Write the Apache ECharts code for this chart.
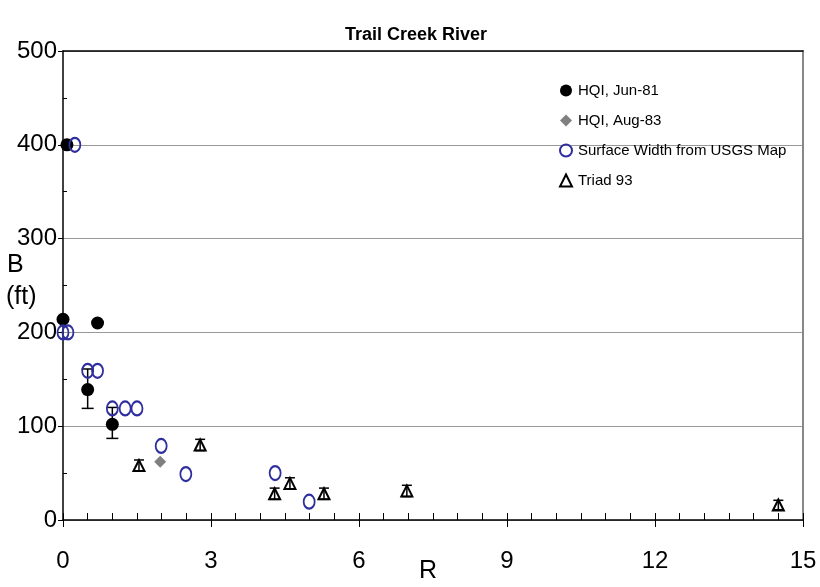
<!DOCTYPE html>
<html>
<head>
<meta charset="utf-8">
<script src="https://cdn.jsdelivr.net/npm/echarts@6/dist/echarts.min.js"></script>
<style>
  html, body { margin: 0; padding: 0; background: #fff; }
</style>
</head>
<body>
<div id="TrailCreek" style="width: 820px; height: 587px;"></div>
<script>
// values: [R, B]
const hqiJun81 = [[0.08, 400], [0, 214], [0.7, 210], [0.5, 139], [1.0, 102]];
// error bars for the Jun-81 points: [R, low, high]
const hqiJun81Err = [[0.5, 119, 161], [1.0, 87, 120]];
const hqiAug83 = [[1.97, 62]];
const usgsWidth = [
  [0.24, 400], [0, 200], [0.1, 200], [0.5, 159], [0.7, 159],
  [1.0, 119], [1.26, 119], [1.5, 119], [1.99, 79], [2.49, 49],
  [4.3, 50], [4.99, 19.5]
];
const triad93 = [[1.54, 58], [2.78, 80], [4.29, 28], [4.6, 39], [5.29, 28], [6.97, 31], [14.5, 16]];
const triad93Err = [6, 6, 6, 6, 6, 6, 5];
const xTicks = [0, 3, 6, 9, 12, 15];
const yTicks = [0, 100, 200, 300, 400, 500];

const FONT = "'Liberation Sans', Arial, sans-serif";

function errorBar(params, api) {
  const x = api.value(0);
  const lo = api.coord([x, api.value(1)]);
  const hi = api.coord([x, api.value(2)]);
  const cap = api.value(3);
  const style = { stroke: '#000', lineWidth: 1.5, fill: null };
  return {
    type: 'group',
    children: [
      { type: 'line', shape: { x1: lo[0], y1: lo[1], x2: hi[0], y2: hi[1] }, style: style },
      { type: 'line', shape: { x1: lo[0] - cap, y1: lo[1], x2: lo[0] + cap, y2: lo[1] }, style: style },
      { type: 'line', shape: { x1: hi[0] - cap, y1: hi[1], x2: hi[0] + cap, y2: hi[1] }, style: style }
    ]
  };
}

const chart = echarts.init(document.getElementById('TrailCreek'));
const option = {
  animation: false,
  backgroundColor: '#fff',
  title: {
    text: 'Trail Creek River',
    left: 340,
    top: 21,
    textStyle: { fontFamily: FONT, fontSize: 18, fontWeight: 'bold', color: '#000' }
  },
  legend: {
    orient: 'vertical',
    left: 554,
    top: 78,
    itemGap: 15,
    itemWidth: 12,
    itemHeight: 12,
    textStyle: { fontFamily: FONT, fontSize: 15, color: '#000', padding: [0, 0, 0, 1] },
    data: [
      { name: 'HQI, Jun-81', icon: 'circle' },
      { name: 'HQI, Aug-83', icon: 'diamond' },
      { name: 'Surface Width from USGS Map', icon: 'circle' },
      { name: 'Triad 93', icon: 'triangle' }
    ]
  },
  grid: { left: 63, right: 17, top: 51, bottom: 67 },
  graphic: [
    { type: 'text', left: 7, top: 253, style: { text: 'B', font: '25px ' + FONT, fill: '#000' } },
    { type: 'text', left: 6, top: 285, style: { text: '(ft)', font: '25px ' + FONT, fill: '#000' } },
    { type: 'text', left: 419, top: 559, style: { text: 'R', font: '25px ' + FONT, fill: '#000' } }
  ],
  xAxis: [
    {
      type: 'value', min: xTicks[0], max: xTicks[xTicks.length - 1], interval: 3,
      axisLine: { onZero: false, lineStyle: { color: '#000', width: 1.5 } },
      axisTick: { inside: true, length: 7, lineStyle: { color: '#000' } },
      minorTick: { show: true, splitNumber: 6, length: 7, lineStyle: { color: '#000' } },
      axisLabel: { margin: 29, fontFamily: FONT, fontSize: 24, color: '#000' },
      splitLine: { show: false }
    },
    {
      type: 'value', min: xTicks[0], max: xTicks[xTicks.length - 1], interval: 3, position: 'bottom',
      axisLine: { show: false, onZero: false },
      axisTick: { length: 7, lineStyle: { color: '#000' } },
      axisLabel: { show: false },
      splitLine: { show: false }
    },
    {
      type: 'value', min: xTicks[0], max: xTicks[xTicks.length - 1], position: 'top',
      axisLine: { show: true, onZero: false, lineStyle: { color: '#000', width: 1.5 } },
      axisTick: { show: false }, axisLabel: { show: false }, splitLine: { show: false }
    }
  ],
  yAxis: [
    {
      type: 'value', min: yTicks[0], max: yTicks[yTicks.length - 1], interval: 100,
      axisLine: { show: true, onZero: false, lineStyle: { color: '#000', width: 1.5 } },
      axisTick: { show: true, length: 5, lineStyle: { color: '#000' } },
      axisLabel: { margin: 6, fontFamily: FONT, fontSize: 24, color: '#000' },
      splitLine: { show: true, lineStyle: { color: '#999', width: 1.2 } }
    },
    {
      // sits on the left axis line, minor ticks pointing into the plot
      type: 'value', min: yTicks[0], max: yTicks[yTicks.length - 1], interval: 100,
      position: 'right', offset: -740,
      axisLine: { show: false, onZero: false },
      axisTick: { show: true, length: 4, lineStyle: { color: 'rgba(0,0,0,0)' } },
      minorTick: { show: true, splitNumber: 2, length: 4, lineStyle: { color: '#000' } },
      axisLabel: { show: false },
      splitLine: { show: false }
    },
    {
      type: 'value', min: yTicks[0], max: yTicks[yTicks.length - 1], position: 'right',
      axisLine: { show: true, onZero: false, lineStyle: { color: '#888', width: 2 } },
      axisTick: { show: false }, axisLabel: { show: false }, splitLine: { show: false }
    }
  ],
  series: [
    {
      name: 'HQI, Jun-81 error', type: 'custom', renderItem: errorBar, z: 3,
      data: hqiJun81Err.map(d => [d[0], d[1], d[2], 6])
    },
    {
      name: 'Triad 93 error', type: 'custom', renderItem: errorBar, z: 3,
      data: triad93.map((d, i) => [d[0], d[1] - triad93Err[i], d[1] + triad93Err[i], 5])
    },
    {
      name: 'HQI, Jun-81', type: 'scatter', symbol: 'circle', symbolSize: 13, z: 4,
      itemStyle: { color: '#000', opacity: 1 },
      data: hqiJun81
    },
    {
      name: 'HQI, Aug-83', type: 'scatter', symbol: 'diamond', symbolSize: 12, z: 4,
      itemStyle: { color: '#808080', opacity: 1 },
      data: hqiAug83
    },
    {
      name: 'Surface Width from USGS Map', type: 'scatter', symbol: 'circle', symbolSize: [11, 14], z: 5,
      itemStyle: { color: 'rgba(255,255,255,0)', borderColor: '#2e2e9e', borderWidth: 2, opacity: 1 },
      data: usgsWidth
    },
    {
      name: 'Triad 93', type: 'scatter', symbol: 'triangle', symbolSize: [11, 11], z: 4,
      itemStyle: { color: 'rgba(255,255,255,0)', borderColor: '#000', borderWidth: 2, opacity: 1 },
      data: triad93
    }
  ]
};
chart.setOption(option);
</script>
</body>
</html>
